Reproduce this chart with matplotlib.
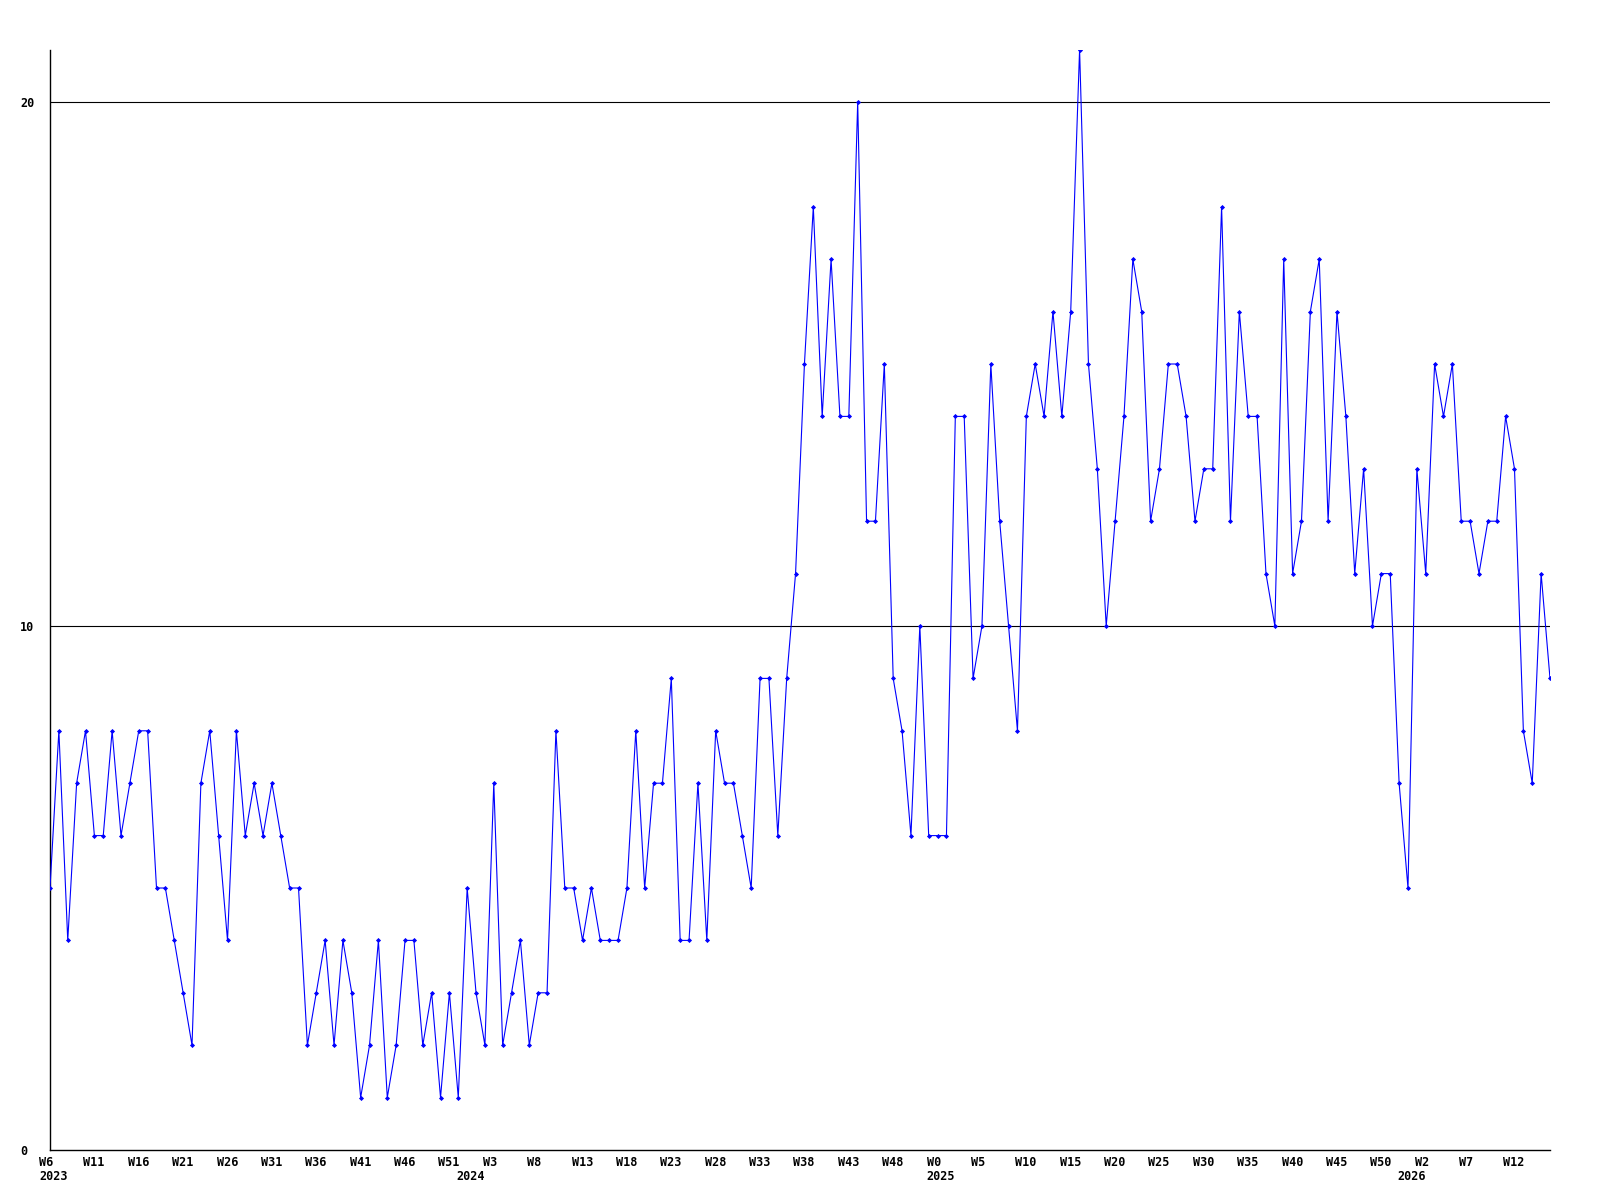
import matplotlib
matplotlib.use("Agg")
import matplotlib.pyplot as plt
from matplotlib.transforms import ScaledTranslation, blended_transform_factory
import numpy as np

# ---- data ----
# (year, first week, last week) covered by the series
year_spans = [(2023, 6, 52), (2024, 0, 52), (2025, 0, 52), (2026, 0, 16)]

values = [
    5, 8, 4, 7, 8, 6, 6, 8, 6, 7, 8, 8, 5, 5, 4, 3, 2, 7, 8, 6, 4, 8,
    6, 7, 6, 7, 6, 5, 5, 2, 3, 4, 2, 4, 3, 1, 2, 4, 1, 2, 4, 4, 2, 3,
    1, 3, 1, 5, 3, 2, 7, 2, 3, 4, 2, 3, 3, 8, 5, 5, 4, 5, 4, 4, 4,
    5, 8, 5, 7, 7, 9, 4, 4, 7, 4, 8, 7, 7, 6, 5, 9, 9, 6, 9, 11, 15,
    18, 14, 17, 14, 14, 20, 12, 12, 15, 9, 8, 6, 10, 6, 6, 6, 14, 14, 9, 10, 15, 12,
    10, 8, 14, 15, 14, 16, 14, 16, 21, 15, 13, 10, 12, 14, 17, 16, 12, 13, 15, 15, 14,
    12, 13, 13, 18, 12, 16, 14, 14, 11, 10, 17, 11, 12, 16, 17, 12, 16, 14, 11, 13, 10,
    11, 11, 7, 5, 13, 11, 15, 14, 15, 12, 12, 11, 12, 12, 14, 13, 8, 7, 11, 9,
]

y_ticks = [0, 10, 20]
grid_levels = [10, 20]

# categories (week labels) and year starts
week_labels = []
year_starts = []
for yr, w0, w1 in year_spans:
    year_starts.append((len(week_labels), str(yr)))
    for w in range(w0, w1 + 1):
        week_labels.append(f"W{w}")

x = np.arange(len(values))

# ---- figure ----
fig = plt.figure(figsize=(16, 12), dpi=100)
ax = fig.add_axes([50 / 1600, 1 - 1150 / 1200, 1500 / 1600, (1150 - 49.6) / 1200])

font = dict(family="DejaVu Sans Mono", weight="bold", size=8.5)

for g in grid_levels:
    ax.axhline(g, color="black", lw=0.8, zorder=1)

ax.plot(x, values, color="#0000ff", lw=0.8, marker="D", markersize=2.6,
        markeredgewidth=0, zorder=3)

ax.set_xlim(0, len(values) - 1)
ax.set_ylim(0, 21)

for s in ["top", "right"]:
    ax.spines[s].set_visible(False)
for s in ["left", "bottom"]:
    ax.spines[s].set_linewidth(1.0)
    ax.spines[s].set_color("black")

# y ticks
ax.set_yticks(y_ticks)
ax.set_yticklabels([str(v) for v in y_ticks], fontdict=font, ha="left")
ax.tick_params(axis="y", length=0, pad=21.6)

# x ticks: week labels every 5 weeks
major_pos = list(range(0, len(values), 5))
ax.set_xticks(major_pos)
ax.set_xticklabels([week_labels[i] for i in major_pos], fontdict=font, ha="left")
ax.tick_params(axis="x", which="both", length=0, pad=4.5)

off = ScaledTranslation(-11 / 100, 0, fig.dpi_scale_trans)
for lab in ax.get_xticklabels():
    lab.set_transform(lab.get_transform() + off)

# year labels at the first week of each year
trans = blended_transform_factory(ax.transData, ax.transAxes) + \
    ScaledTranslation(-11 / 100, -27 / 100, fig.dpi_scale_trans)
for pos, txt in year_starts:
    ax.text(pos, 0, txt, transform=trans, ha="left", va="center",
            fontdict=font, clip_on=False)

fig.savefig("out.png", dpi=100, facecolor="white")
